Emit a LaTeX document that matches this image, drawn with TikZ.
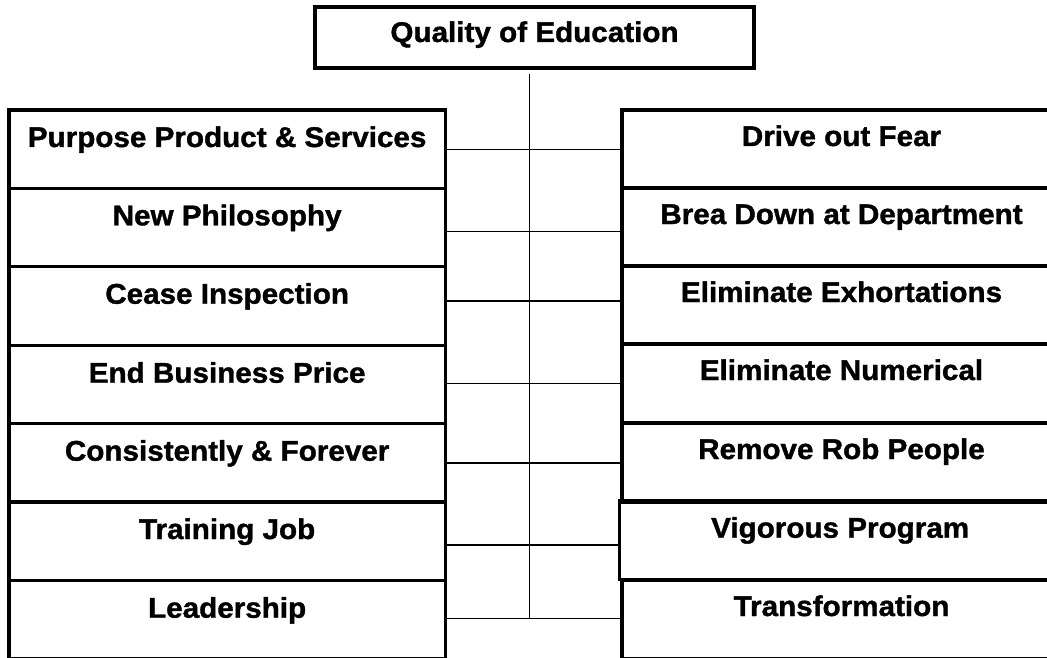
\documentclass[tikz,border=0pt]{standalone}
\usepackage{fontspec}
\setmainfont{Liberation Sans}
\newfontfamily\boxfont{Liberation Sans Bold}[FakeBold=1.3, FakeStretch=1.04]
\usetikzlibrary{calc}
\tikzset{
  boxframe/.style={draw=black, line width=3.4pt, inner sep=0pt, outer sep=0pt, anchor=north west, rectangle},
  boxtext/.style={anchor=base, inner sep=0pt, font=\boxfont\fontsize{28.5}{34}\selectfont},
  link/.style={draw=black, line width=1.5pt}
}
\begin{document}
\begin{tikzpicture}[x=1pt,y=-1pt]
\clip (0,0) rectangle (1047,658);
\fill[white] (0,0) rectangle (1047,658);
% top box
\node[boxframe, minimum width=439pt, minimum height=61pt] (Q) at (315,7) {};
\node[boxtext] (tQ) at ($(Q.north)+(0,35)$) {Quality of Education};
% left column
\node[boxframe, minimum width=436.3pt, minimum height=78.3pt] (L1) at (9,110) {};
\node[boxframe, minimum width=436.3pt, minimum height=78.4pt] (L2) at (9,188.3) {};
\node[boxframe, minimum width=436.3pt, minimum height=79pt] (L3) at (9,266.7) {};
\node[boxframe, minimum width=436.3pt, minimum height=78pt] (L4) at (9,345.7) {};
\node[boxframe, minimum width=436.3pt, minimum height=78.3pt] (L5) at (9,423.7) {};
\node[boxframe, minimum width=436.3pt, minimum height=78.7pt] (L6) at (9,502) {};
\node[boxframe, minimum width=436.3pt, minimum height=78.3pt] (L7) at (9,580.7) {};
\node[boxtext] (tL1) at ($(L1.north)+(0,37)$) {Purpose Product \& Services};
\node[boxtext] (tL2) at ($(L2.north)+(0,37)$) {New Philosophy};
\node[boxtext] (tL3) at ($(L3.north)+(0,37)$) {Cease Inspection};
\node[boxtext] (tL4) at ($(L4.north)+(0,37)$) {End Business Price};
\node[boxtext] (tL5) at ($(L5.north)+(0,37)$) {Consistently \& Forever};
\node[boxtext] (tL6) at ($(L6.north)+(0,37)$) {Training Job};
\node[boxtext] (tL7) at ($(L7.north)+(0,37)$) {Leadership};
% right column
\node[boxframe, minimum width=439pt, minimum height=78pt] (R1) at (622,110) {};
\node[boxframe, minimum width=439pt, minimum height=78pt] (R2) at (622,188) {};
\node[boxframe, minimum width=439pt, minimum height=78pt] (R3) at (622,266) {};
\node[boxframe, minimum width=439pt, minimum height=79pt] (R4) at (622,344) {};
\node[boxframe, minimum width=439pt, minimum height=79pt] (R5) at (622,423) {};
\node[boxframe, minimum width=441.7pt, minimum height=78.6pt] (R6) at (619.3,500.7) {};
\node[boxframe, minimum width=439pt, minimum height=79pt] (R7) at (622,580) {};
\node[boxtext] (tR1) at ($(R1.north)+(0,36)$) {Drive out Fear};
\node[boxtext] (tR2) at ($(R2.north)+(0,36)$) {Brea Down at Department};
\node[boxtext] (tR3) at ($(R3.north)+(0,36)$) {Eliminate Exhortations};
\node[boxtext] (tR4) at ($(R4.north)+(0,36)$) {Eliminate Numerical};
\node[boxtext] (tR5) at ($(R5.north)+(0,36)$) {Remove Rob People};
\node[boxtext] (tR6) at ($(R6.north)+(0,37)$) {Vigorous Program};
\node[boxtext] (tR7) at ($(R7.north)+(0,36)$) {Transformation};
% trunk
\coordinate (trunktop) at (529.3,74);
\coordinate (j1) at (529.3,149.3);
\coordinate (j2) at (529.3,231.3);
\coordinate (j3) at (529.3,301);
\coordinate (j4) at (529.3,383.3);
\coordinate (j5) at (529.3,463);
\coordinate (j6) at (529.3,545);
\coordinate (j7) at (529.3,618.3);
\draw[link] (trunktop) -- (j7);
\draw[link] (L1.east |- j1) -- (R1.west |- j1);
\draw[link] (L2.east |- j2) -- (R2.west |- j2);
\draw[link] (L3.east |- j3) -- (R3.west |- j3);
\draw[link] (L4.east |- j4) -- (R4.west |- j4);
\draw[link] (L5.east |- j5) -- (R5.west |- j5);
\draw[link] (L6.east |- j6) -- (R6.west |- j6);
\draw[link] (L7.east |- j7) -- (R7.west |- j7);
\end{tikzpicture}
\end{document}
